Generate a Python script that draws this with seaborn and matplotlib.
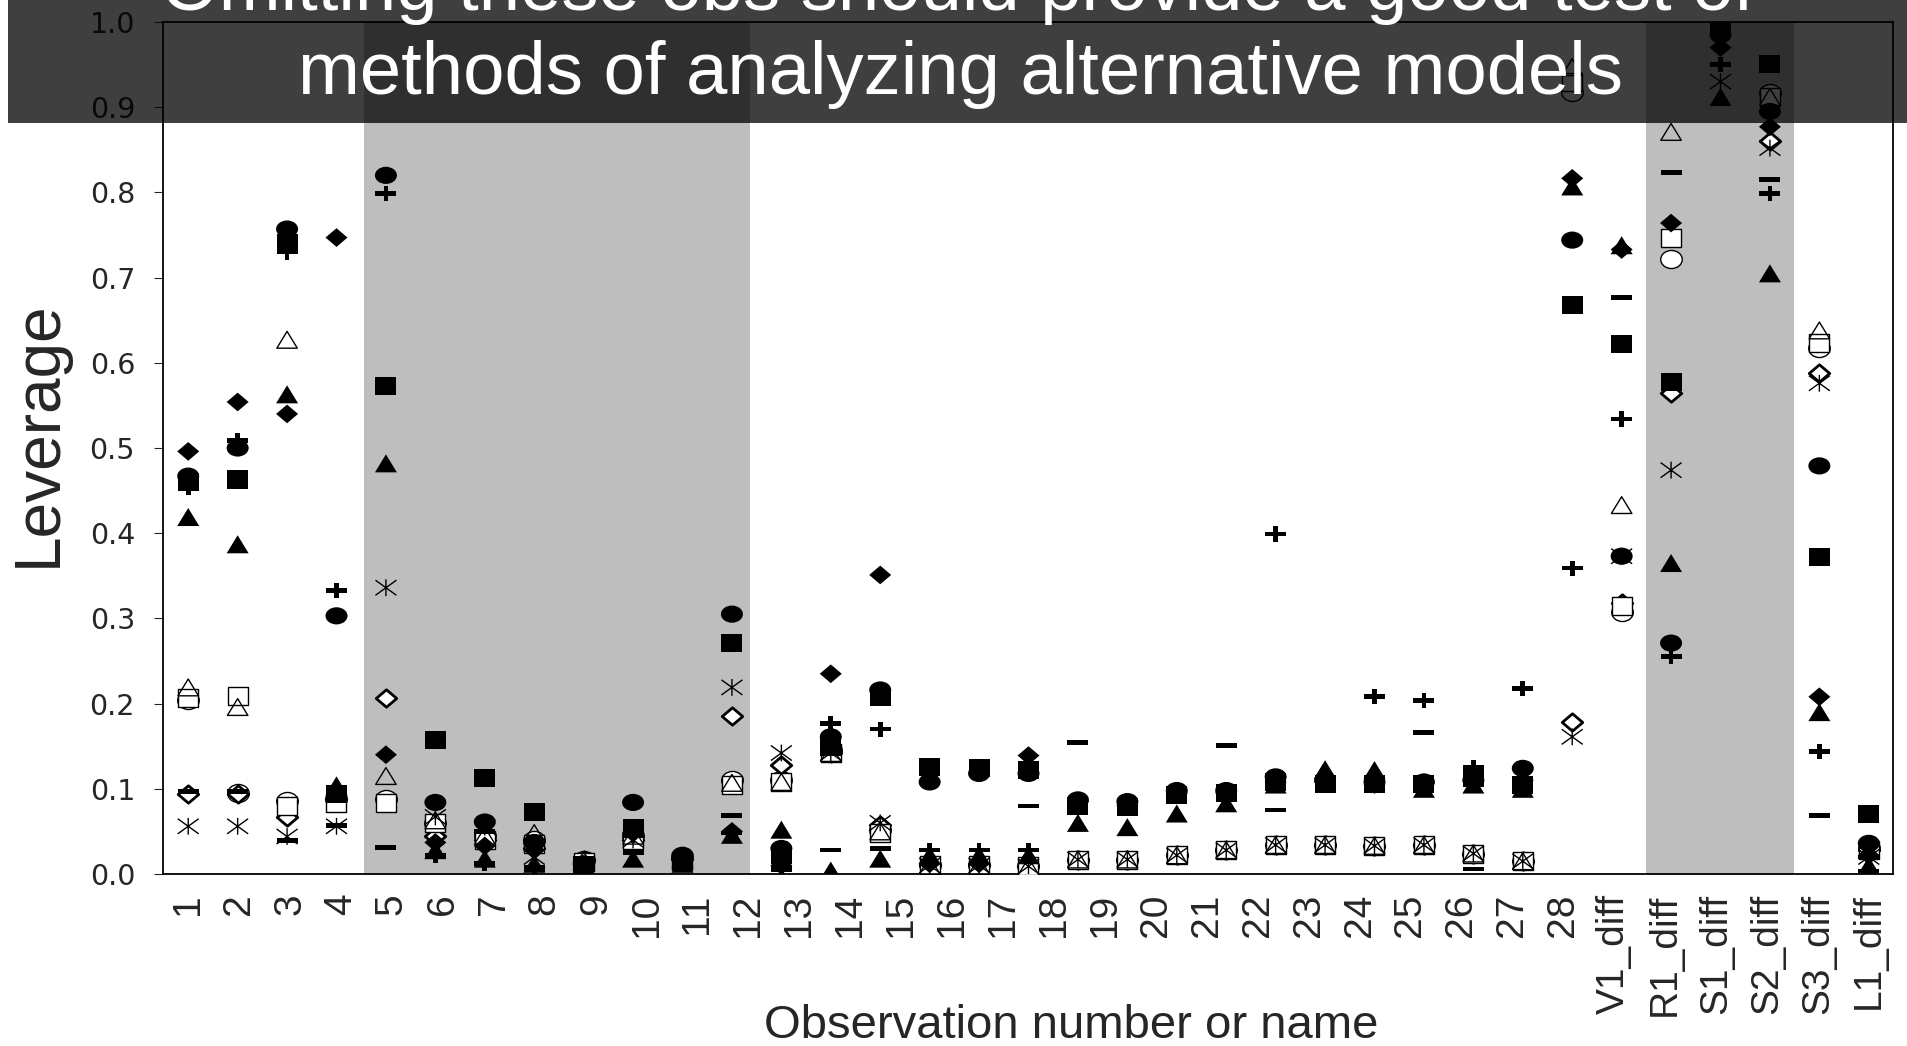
import numpy as np
import pandas as pd
import matplotlib
matplotlib.use("Agg")
import matplotlib.pyplot as plt
from matplotlib.path import Path
from matplotlib.patches import Rectangle
import seaborn as sns

nan = np.nan

# ---------------------------------------------------------------- data
positions = np.arange(1, 36)
tick_labels = [str(i) for i in range(1, 29)] + [
    "V1_diff", "R1_diff", "S1_diff", "S2_diff", "S3_diff", "L1_diff"]

circle_filled = [0.467, 0.500, 0.757, 0.303, 0.820, 0.084, 0.061, 0.037, 0.012, 0.084,
                 0.022, 0.305, 0.030, 0.161, 0.216, 0.108, 0.118, 0.118, 0.087, 0.085,
                 0.098, 0.098, 0.114, 0.110, 0.108, 0.108, 0.110, 0.124, 0.744, 0.373,
                 0.271, 0.985, 0.895, 0.479, 0.036]
square_filled = [0.460, 0.463, 0.740, 0.094, 0.573, 0.157, 0.113, 0.073, 0.010, 0.054,
                 0.015, 0.271, 0.022, 0.149, 0.208, 0.126, 0.124, 0.122, 0.080, 0.079,
                 0.093, 0.095, 0.108, 0.106, 0.106, 0.106, 0.113, 0.105, 0.668, 0.622,
                 0.577, 0.995, 0.951, 0.372, 0.070]
triangle_filled = [0.419, 0.387, 0.563, 0.104, 0.482, 0.028, 0.018, 0.012, 0.008, 0.018,
                   0.012, 0.046, 0.052, 0.004, 0.018, 0.022, 0.022, 0.022, 0.060, 0.055,
                   0.071, 0.083, 0.105, 0.123, 0.122, 0.100, 0.105, 0.100, 0.807, 0.738,
                   0.365, 0.912, 0.705, 0.190, 0.010]
diamond_filled = [0.496, 0.554, 0.540, 0.747, 0.140, 0.037, 0.033, 0.028, 0.010, 0.048,
                  0.015, 0.050, 0.010, 0.235, 0.351, 0.012, 0.012, 0.139, 0.085, 0.080,
                  0.095, 0.095, 0.108, 0.108, 0.105, 0.107, 0.110, 0.110, 0.8165, 0.733,
                  0.764, 0.970, 0.877, 0.208, 0.022]
plus_bold = [0.454, 0.509, 0.730, 0.333, 0.799, 0.022, 0.012, 0.008, 0.010, 0.045,
             0.012, 0.048, 0.008, 0.177, 0.170, 0.028, 0.028, 0.028, 0.080, 0.080,
             0.095, 0.095, 0.399, 0.110, 0.208, 0.204, 0.125, 0.218, 0.359, 0.534,
             0.255, 0.950, 0.799, 0.144, 0.020]
dash_bold = [0.097, 0.097, 0.039, 0.057, 0.031, nan, 0.050, 0.005, 0.008, 0.025,
             0.010, 0.069, 0.005, 0.028, 0.030, nan, nan, 0.080, 0.154, nan,
             nan, 0.151, 0.075, nan, nan, 0.166, 0.006, nan, nan, 0.677,
             0.823, nan, 0.815, 0.069, 0.003]
asterisk = [0.056, 0.056, 0.044, 0.056, 0.336, 0.067, 0.055, 0.020, 0.012, 0.040,
            0.015, 0.219, 0.142, 0.142, 0.060, 0.010, 0.010, 0.009, 0.017, 0.017,
            0.022, 0.028, 0.034, 0.034, 0.033, 0.034, 0.024, 0.015, 0.161, 0.373,
            0.474, 0.930, 0.852, 0.576, 0.020]
triangle_open = [0.219, 0.196, 0.627, 0.095, 0.115, 0.063, 0.045, 0.048, 0.016, 0.045,
                 0.018, 0.107, 0.108, 0.142, 0.050, 0.010, 0.010, 0.009, 0.017, 0.017,
                 0.022, 0.028, 0.034, 0.034, 0.033, 0.034, 0.024, 0.015, 0.947, 0.433,
                 0.871, nan, 0.912, 0.638, 0.028]
square_open = [0.207, 0.209, 0.080, 0.083, 0.083, 0.060, 0.040, 0.035, 0.014, 0.040,
               0.015, 0.105, 0.108, 0.142, 0.048, 0.010, 0.010, 0.009, 0.017, 0.017,
               0.022, 0.028, 0.034, 0.034, 0.033, 0.034, 0.024, 0.015, 0.930, 0.314,
               0.746, nan, 0.912, 0.623, 0.028]
circle_open = [0.204, 0.095, 0.086, 0.088, 0.088, 0.060, 0.045, 0.040, 0.016, 0.045,
               0.020, 0.110, 0.110, 0.145, 0.052, 0.010, 0.010, 0.009, 0.017, 0.017,
               0.022, 0.028, 0.034, 0.034, 0.033, 0.034, 0.024, 0.015, 0.918, 0.308,
               0.722, nan, 0.917, 0.617, 0.030]
diamond_open = [0.094, 0.094, 0.067, 0.088, 0.207, 0.045, 0.040, 0.030, 0.016, 0.040,
                0.018, 0.185, 0.128, 0.142, 0.058, 0.010, 0.010, 0.009, 0.017, 0.017,
                0.022, 0.028, 0.034, 0.034, 0.033, 0.034, 0.024, 0.015, 0.178, 0.318,
                0.565, nan, 0.860, 0.588, 0.028]

shaded_spans = [(4.55, 12.37), (30.5, 33.48)]

series = {
    "circle_open": circle_open, "diamond_open": diamond_open,
    "square_open": square_open, "triangle_open": triangle_open,
    "asterisk": asterisk, "circle_filled": circle_filled,
    "square_filled": square_filled, "triangle_filled": triangle_filled,
    "diamond_filled": diamond_filled, "plus_bold": plus_bold,
    "dash_bold": dash_bold,
}
df = pd.concat(
    [pd.DataFrame({"position": positions, "leverage": vals, "model": name})
     for name, vals in series.items()],
    ignore_index=True)


# ---------------------------------------------------------------- marker shapes
def polygon(pts):
    pts = list(pts) + [pts[0]]
    codes = [Path.MOVETO] + [Path.LINETO] * (len(pts) - 2) + [Path.CLOSEPOLY]
    return Path(pts, codes)


uc = Path.unit_circle()
ellipse = Path(uc.vertices * np.array([1.0, 0.78]), uc.codes)
ellipse_open = Path(uc.vertices * np.array([1.0, 0.84]), uc.codes)
square = polygon([(-1, -0.86), (1, -0.86), (1, 0.86), (-1, 0.86)])
triangle = polygon([(0, 0.82), (-1, -0.82), (1, -0.82)])
diamond = polygon([(0, 0.85), (1, 0), (0, -0.85), (-1, 0)])
t, h = 0.22, 0.72
plus = polygon([(-t, h), (t, h), (t, t), (1, t), (1, -t), (t, -t), (t, -h),
                (-t, -h), (-t, -t), (-1, -t), (-1, t), (-t, t)])
dash = polygon([(-1, -0.22), (1, -0.22), (1, 0.22), (-1, 0.22)])
star6 = Path([(0, -0.8), (0, 0.8), (-1, -0.72), (1, 0.72), (-1, 0.72), (1, -0.72)],
             [Path.MOVETO, Path.LINETO] * 3)


def s_px(width_px):
    return (width_px * 72 / 100) ** 2


styles = {
    "circle_open":     dict(marker=ellipse_open, s=s_px(21.5), facecolor="white", edgecolor="black", linewidth=1.0),
    "diamond_open":    dict(marker=diamond, s=s_px(20.5), facecolor="white", edgecolor="black", linewidth=2.0),
    "square_open":     dict(marker=square, s=s_px(20.5), facecolor="white", edgecolor="black", linewidth=1.0),
    "triangle_open":   dict(marker=triangle, s=s_px(20.5), facecolor="none", edgecolor="black", linewidth=1.0),
    "asterisk":        dict(marker=star6, s=s_px(21), facecolor="none", edgecolor="black", linewidth=1.0),
    "circle_filled":   dict(marker=ellipse, s=s_px(22), facecolor="black", edgecolor="none", linewidth=0),
    "square_filled":   dict(marker=square, s=s_px(21), facecolor="black", edgecolor="none", linewidth=0),
    "triangle_filled": dict(marker=triangle, s=s_px(22), facecolor="black", edgecolor="none", linewidth=0),
    "diamond_filled":  dict(marker=diamond, s=s_px(22), facecolor="black", edgecolor="none", linewidth=0),
    "plus_bold":       dict(marker=plus, s=s_px(21), facecolor="black", edgecolor="none", linewidth=0),
    "dash_bold":       dict(marker=dash, s=s_px(21), facecolor="black", edgecolor="none", linewidth=0),
}

# ---------------------------------------------------------------- figure
sns.set_style("ticks")
plt.rcParams["font.family"] = ["Liberation Sans", "DejaVu Sans"]

W, H = 1908, 1046
fig = plt.figure(figsize=(W / 100, H / 100), dpi=100)
ax_l, ax_r, ax_t, ax_b = 163.5, 1893.5, 22, 874
ax = fig.add_axes([ax_l / W, 1 - ax_b / H, (ax_r - ax_l) / W, (ax_b - ax_t) / H])
ax.set_facecolor("white")

for x0, x1 in shaded_spans:
    ax.axvspan(x0, x1, color="#bebebe", lw=0, zorder=0)

for i, (name, st) in enumerate(styles.items()):
    sub = df[df["model"] == name].dropna()
    sns.scatterplot(data=sub, x="position", y="leverage", ax=ax, legend=False,
                    color="black", zorder=3 + i * 0.1, **st)

ax.set_xlim(0.5, 35.5)
ax.set_ylim(0.0, 1.0)

label_pos = 1 + np.arange(len(tick_labels)) * (34 / 33)
ax.set_xticks(label_pos)
ax.set_xticklabels(tick_labels, rotation=90, fontsize=28)
ax.tick_params(axis="x", length=0, pad=14)

yt = np.round(np.arange(0, 1.01, 0.1), 1)
ax.set_yticks(yt)
ax.set_yticklabels([f"{v:.1f}" for v in yt], fontsize=20.5, family="DejaVu Sans")
ax.tick_params(axis="y", length=6.5, width=0.8, pad=14, direction="out")

for sp in ax.spines.values():
    sp.set_visible(True)
    sp.set_color("black")
    sp.set_linewidth(1.3)

ax.set_xlabel("Observation number or name", fontsize=34)
ax.set_ylabel("Leverage", fontsize=46)
ax.xaxis.set_label_coords((1071 - ax_l) / (ax_r - ax_l), (ax_b - 1026) / (ax_b - ax_t))
ax.xaxis.label.set_verticalalignment("center")
ax.yaxis.set_label_coords((39 - ax_l) / (ax_r - ax_l), (ax_b - 434) / (ax_b - ax_t))
ax.yaxis.label.set_verticalalignment("center")

# translucent caption banner across the top
fig.add_artist(Rectangle((8 / W, 1 - 123 / H), 1 - 8 / W, 123 / H,
                         transform=fig.transFigure, facecolor="black",
                         edgecolor="none", alpha=0.753, zorder=20))
fig.text(958 / W, 1 - 10 / H, "Omitting these obs should provide a good test of",
         color="white", fontsize=53.5, ha="center", va="baseline", zorder=21)
fig.text(960 / W, 1 - 94 / H, "methods of analyzing alternative models",
         color="white", fontsize=53.5, ha="center", va="baseline", zorder=21)

fig.savefig("out.png", dpi=100)
